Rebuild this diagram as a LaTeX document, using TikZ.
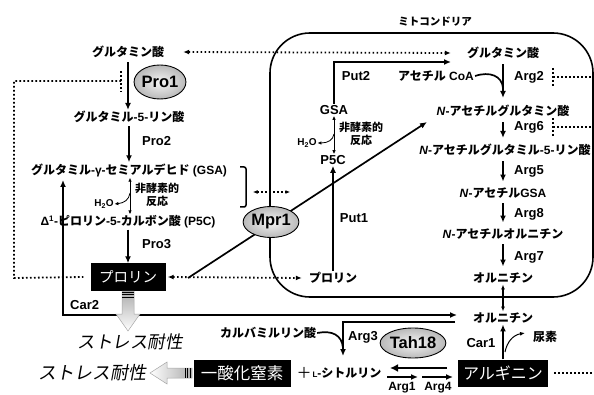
\documentclass[tikz,border=0pt]{standalone}
\usepackage{fontspec}
\setmainfont{Liberation Sans}
\newfontfamily\J{Noto Sans CJK JP}
\newfontfamily\JS{Noto Sans CJK JP}[FakeSlant=0.18]
\usetikzlibrary{arrows.meta,shapes.geometric,calc}
\pgfdeclarelayer{bg}
\pgfsetlayers{bg,main}
\newcommand\jj[1]{{\J #1}}
\begin{document}
\begin{tikzpicture}[x=1pt,y=-1pt,
 lbl/.style={font=\bfseries\fontsize{12}{14}\selectfont,inner sep=1pt},
 lab/.style={font=\bfseries\fontsize{13}{14}\selectfont,inner sep=1pt},
 sm/.style={font=\bfseries\fontsize{11}{13.5}\selectfont,inner sep=0pt,align=center},
 enz/.style={ellipse,draw=black,line width=0.9pt,inner color=gray!8,outer color=gray!55,font=\bfseries\fontsize{16.5}{16}\selectfont,inner sep=0pt,minimum width=52pt,minimum height=31pt},
 blk/.style={fill=black,text=white,inner sep=0pt,minimum height=27pt},
 arr/.style={line width=1.7pt,-{Latex[length=7pt,width=6pt]}},
 darr/.style={line width=1.7pt,{Latex[length=7pt,width=6pt]}-{Latex[length=7pt,width=6pt]}},
 thinarr/.style={line width=0.8pt,-{Latex[length=4pt,width=3.5pt]}},
 thindarr/.style={line width=0.8pt,{Latex[length=4pt,width=3.5pt]}-{Latex[length=4pt,width=3.5pt]}},
 dotln/.style={line width=1.8pt,dash pattern=on 1.6pt off 2.4pt},
 dotdarr/.style={dotln,{Latex[length=6pt,width=5pt]}-{Latex[length=6pt,width=5pt]}},
 hollow/.style={draw=gray!70,line width=0.5pt},
]
\useasboundingbox (0,0) rectangle (594,395);

% ---- cytosol
\node[font=\bfseries\fontsize{10.5}{12}\selectfont] (mito) at (435,22) {\jj{ミトコンドリア}};
\node[lbl] (glu) at (128,52) {\jj{グルタミン酸}};
\node[enz,minimum width=50pt,minimum height=34pt] (pro1) at (160,82) {Pro1};
\node[lbl] (g5p) at (129,117) {\jj{グルタミル}-5-\jj{リン酸}};
\node[lab,anchor=west] (pro2l) at (141,141) {Pro2};
\node[lbl] (gsa) at (129,170) {\jj{グルタミル}-γ-\jj{セミアルデヒド} (GSA)};
\node[sm] (nel) at (157,195) {\jj{非酵素的}\\\jj{反応}};
\node[font=\bfseries\fontsize{10}{10}\selectfont,inner sep=0.5pt] (h2o) at (104,204) {H\textsubscript{2}O};
\node[lbl] (p5c) at (128,222) {Δ\textsuperscript{1}-\jj{ピロリン}-5-\jj{カルボン酸} (P5C)};
\node[lab,anchor=west] (pro3l) at (141,244) {Pro3};
\node[blk,minimum width=75pt,font=\J\fontsize{14.5}{15}\selectfont] (proc) at (128,277) {プロリン};
\node[lab,anchor=west] (car2l) at (69,305) {Car2};
\node[font=\JS\fontsize{17.5}{18}\selectfont,inner sep=0pt] (st1) at (130,342) {ストレス耐性};
\node[font=\JS\fontsize{18}{18}\selectfont,inner sep=0pt] (st2) at (92,373) {ストレス耐性};
\node[blk,minimum width=97pt,font=\J\fontsize{16.5}{17}\selectfont] (no) at (242,373) {一酸化窒素};
\node[font=\J\fontsize{15}{15}\selectfont,inner sep=0pt] (plus) at (304,373) {＋};
\node[lbl,inner sep=0pt] (cit) at (347,373) {{\fontsize{8}{8}\selectfont L}-\jj{シトルリン}};
\node[lbl] (carb) at (268,333) {\jj{カルバミルリン酸}};
\node[lab] (arg3l) at (363,337) {Arg3};
\node[enz,minimum width=53pt,minimum height=30pt] (tah) at (413,343) {Tah18};
\node[lbl,inner sep=0pt] (arg1l) at (402,387.5) {Arg1};
\node[lbl,inner sep=0pt] (arg4l) at (438,387.5) {Arg4};
\node[blk,minimum width=90pt,font=\J\fontsize{16}{16}\selectfont] (arg) at (503,373) {アルギニン};
\node[lab] (car1l) at (481,343) {Car1};
\node[lbl] (urea) at (545,337) {\jj{尿素}};
\node[lbl] (orn2) at (503,318) {\jj{オルニチン}};

% ---- mitochondrion
\node[lbl] (mglu) at (503,53) {\jj{グルタミン酸}};
\node[lbl] (acoa) at (436,76) {\jj{アセチル} CoA};
\node[lab,anchor=west] (arg2l) at (513,77) {Arg2};
\node[lbl] (nag) at (503,111) {\textit{N}-\jj{アセチルグルタミン酸}};
\node[lab,anchor=west] (arg6l) at (513,127) {Arg6};
\node[lbl] (nagp) at (505,150) {\textit{N}-\jj{アセチルグルタミル}-5-\jj{リン酸}};
\node[lab,anchor=west] (arg5l) at (513,171) {Arg5};
\node[lbl] (nagsa) at (503,193) {\textit{N}-\jj{アセチル}GSA};
\node[lab,anchor=west] (arg8l) at (513,214) {Arg8};
\node[lbl] (nao) at (503,234) {\textit{N}-\jj{アセチルオルニチン}};
\node[lab,anchor=west] (arg7l) at (513,257) {Arg7};
\node[lbl] (orn1) at (503,278) {\jj{オルニチン}};
\node[lab] (mgsa) at (334,110) {GSA};
\node[sm] (mnel) at (361,134) {\jj{非酵素的}\\\jj{反応}};
\node[font=\bfseries\fontsize{10}{10}\selectfont,inner sep=0.5pt] (mh2o) at (307,143) {H\textsubscript{2}O};
\node[lab] (mp5c) at (333,160) {P5C};
\node[lab] (put2l) at (356,76) {Put2};
\node[lab] (put1l) at (354,218) {Put1};
\node[lbl] (mpro) at (333,278) {\jj{プロリン}};
\node[enz,minimum width=51pt,minimum height=31pt] (mpr1) at (271,222) {Mpr1};

\coordinate (mstart) at (188,278);
\coordinate (mend) at (427,122);
\coordinate (p2e) at (451,62);
\coordinate (fb) at (121,81);
\coordinate (c2top) at (63,180);
\coordinate (c2end) at (457,315);
\coordinate (a3start) at (455,322);
\coordinate (a3end) at (343,356);

\begin{pgfonlayer}{bg}
\draw[line width=1.6pt,rounded corners=40pt] (270,33) rectangle (593,297);
% cytosol pathway
\draw[arr,shorten <=3pt] (glu.south) -- (glu.south |- g5p.north);
\draw[arr,shorten <=2pt] (g5p.south) -- (g5p.south |- gsa.north);
\draw[thindarr] ([xshift=1pt]gsa.south) -- ([xshift=2pt]p5c.north);
\draw[thinarr] (130,193) .. controls (129,200) and (124,203) .. (h2o.east);
\draw[arr] (p5c.south) -- (p5c.south |- proc.north);
% feedback Pro1
\draw[dotln] (121,71) -- (121,92);
\draw[dotln] (fb) -- (14,81) -- (14,278) -- ([xshift=-7pt]proc.west);
% glutamate exchange
\draw[dotdarr] ([xshift=18pt]glu.east) -- ([xshift=-15pt]mglu.west);
% Mpr1
\draw[arr] (mstart) -- (mend);
\draw[line width=1.5pt,rounded corners=2pt] (240,167) -- (246,167) -- (246,207) -- (240,207);
\draw[dotln,{Latex[length=4.5pt,width=4pt]}-{Latex[length=4.5pt,width=4pt]}] (253,192) -- (290,192);
% proline exchange
\draw[dotdarr] ([xshift=2pt]proc.east) -- ([xshift=-6pt]mpro.west);
% mito proline
\draw[arr] (mpro.north) -- (mpro.north |- mp5c.south);
\draw[thindarr] (mgsa.south) -- (mgsa.south |- mp5c.north);
\draw[thinarr] (334,134) .. controls (333,140) and (328,143) .. (mh2o.east);
\draw[arr] (mgsa.north) |- (p2e);
% arginine pathway
\draw[arr,shorten <=4pt,shorten >=6pt] (mglu.south) -- (mglu.south |- nag.north);
\draw[line width=1.7pt] (acoa.east) .. controls (490,71) and (502,76) .. (503,88);
\draw[arr,shorten <=4pt,shorten >=5pt] (nag.south) -- (nag.south |- nagp.north);
\draw[arr,shorten <=4pt,shorten >=5pt] (nagp.south -| nag.south) -- (nag.south |- nagsa.north);
\draw[arr,shorten <=4pt,shorten >=5pt] (nagsa.south) -- (nagsa.south |- nao.north);
\draw[arr,shorten <=4pt,shorten >=5pt] (nao.south) -- (nao.south |- orn1.north);
\draw[dotln] (553,68) -- (553,87);
\draw[dotln] (553,77) -- (594,77);
\draw[dotln] (553,118) -- (553,137);
\draw[dotln] (553,127) -- (594,127);
\draw[line width=1.3pt,{Latex[length=5pt,width=4pt]}-{Latex[length=5pt,width=4pt]}] (orn1.south) -- (orn2.north);
% Car2
\draw[darr] (c2top) |- (c2end);
\draw[arr] (a3start) -| (a3end);
\draw[line width=1.7pt] (carb.east) .. controls (332,330) and (342,335) .. (343,348);
% Arg1/Arg4
\draw[line width=2.6pt,-{Latex[length=8pt,width=8pt]}] (447,368) -- (390,368);
\draw[arr] (387,377) -- (418,377);
\draw[arr] (422,377) -- (453,377);
% Car1
\draw[arr] (arg.north) -- (orn2.south);
\draw[line width=1pt,-{Latex[length=5pt,width=4pt]}] (505,352) .. controls (507,342) and (513,335) .. (525,333);
\draw[dotln] ([xshift=6pt]arg.east) -- ++(50,0);
\end{pgfonlayer}

% hollow arrows
\shade[hollow,top color=gray!65,bottom color=white] (122,291) -- (134,291) -- (134,314) -- (140,314) -- (128,331) -- (116,314) -- (122,314) -- cycle;
\foreach \yy in {292,294.5,297} \draw[line width=0.8pt] (122,\yy) -- (134,\yy);
\shade[hollow,left color=white,right color=gray!65] (192,368) -- (192,378) -- (167,378) -- (167,384) -- (150,373) -- (167,362) -- (167,368) -- cycle;
\foreach \xx in {185,187.5,190} \draw[line width=0.8pt] (\xx,368) -- (\xx,378);
\end{tikzpicture}
\end{document}
